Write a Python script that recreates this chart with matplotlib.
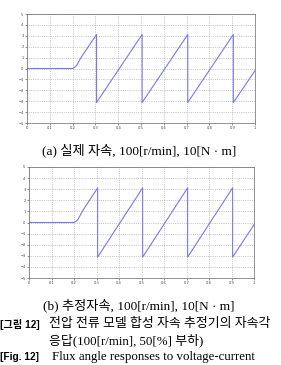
import numpy as np
import matplotlib.pyplot as plt

# flux angle [rad] vs time [s], vertices (drops repeat the time)
TIME = [0.0, 0.2, 0.21, 0.22, 0.23, 0.24, 0.305, 0.305, 0.505, 0.505,
        0.705, 0.705, 0.905, 0.905, 1.0]
ANGLE_REAL = [0.0, 0.0, 0.12, 0.35, 0.75, 1.1, 3.12, -3.12, 3.12, -3.12,
              3.12, -3.12, 3.12, -3.12, -0.2]
ANGLE_EST = [0.0, 0.0, 0.12, 0.35, 0.75, 1.1, 3.12, -3.12, 3.12, -3.12,
             3.12, -3.12, 3.12, -3.12, -0.2]

X_TICKS = [0, 0.1, 0.2, 0.3, 0.4, 0.5, 0.6, 0.7, 0.8, 0.9, 1]
X_TICKLABELS = ["0", "0.1", "0.2", "0.3", "0.4", "0.5", "0.6", "0.7", "0.8", "0.9", "1"]
Y_TICKS = list(range(-5, 6))

CAPTION_A = "(a) 실제 자속, 100[r/min], 10[N · m]"
CAPTION_B = "(b) 추정자속, 100[r/min], 10[N · m]"

SERIF = ["Liberation Serif", "Noto Sans CJK KR"]
SANS = ["Liberation Sans", "Noto Sans CJK KR"]

W, H = 281, 365
LINE_COLOR = "#7878f4"
FS = 9.3


def draw_panel(ax, t, y):
    ax.plot(t, y, color=LINE_COLOR, linewidth=0.8)
    ax.set_xlim(0, 1)
    ax.set_ylim(-5, 5)
    ax.set_xticks(X_TICKS)
    ax.set_xticklabels(X_TICKLABELS)
    ax.set_yticks(Y_TICKS)
    ax.tick_params(labelsize=2.6, length=1.5, width=0.4, pad=1, colors="#444444")
    ax.grid(True, linestyle=":", linewidth=0.5, color="#999999")
    for s in ax.spines.values():
        s.set_linewidth(0.5)
        s.set_color("#666666")


def main():
    fig = plt.figure(figsize=(W / 100, H / 100), dpi=100)

    ax1 = fig.add_axes([27 / W, 1 - 123 / H, 228 / W, 109 / H])
    draw_panel(ax1, TIME, ANGLE_REAL)

    ax2 = fig.add_axes([29 / W, 1 - 278 / H, 225 / W, 111 / H])
    draw_panel(ax2, TIME, ANGLE_EST)

    fig.text(139 / W, 1 - 150 / H, CAPTION_A, family=SERIF, fontsize=9.5,
             ha="center", va="center")
    fig.text(139 / W, 1 - 305 / H, CAPTION_B, family=SERIF, fontsize=9.5,
             ha="center", va="center")

    # figure caption lines
    fig.text(0.5 / W, 1 - 324 / H, "[그림 12]", family=SANS, fontsize=7.3,
             fontweight="bold", ha="left", va="center")
    fig.text(49 / W, 1 - 324 / H, "전압 전류 모델 합성 자속 추정기의 자속각",
             family=SERIF, fontsize=FS, ha="left", va="center")
    fig.text(49 / W, 1 - 340 / H, "응답(100[r/min], 50[%] 부하)",
             family=SERIF, fontsize=FS, ha="left", va="center")
    fig.text(0.5 / W, 1 - 357 / H, "[Fig. 12]", family=SANS, fontsize=7.3,
             fontweight="bold", ha="left", va="center")
    fig.text(52 / W, 1 - 357 / H, "Flux angle responses to voltage-current",
             family=SERIF, fontsize=FS, ha="left", va="center")

    fig.savefig("out.png", dpi=100)
    plt.close(fig)


if __name__ == "__main__":
    main()
